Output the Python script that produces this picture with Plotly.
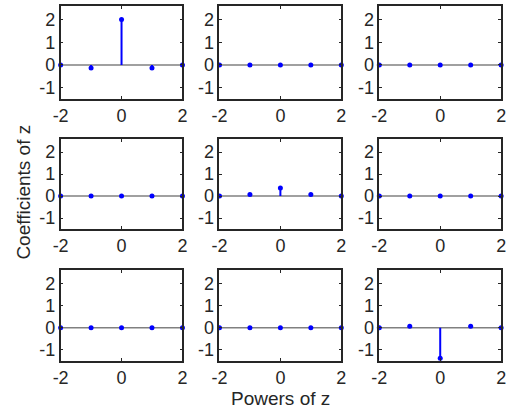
import plotly.graph_objects as go

powers = [-2, -1, 0, 1, 2]
coef_11 = [0, -0.13, 2, -0.13, 0]
coef_12 = [0, 0, 0, 0, 0]
coef_13 = [0, 0, 0, 0, 0]
coef_21 = [0, 0, 0, 0, 0]
coef_22 = [0, 0.07, 0.37, 0.07, 0]
coef_23 = [0, 0, 0, 0, 0]
coef_31 = [0, 0, 0, 0, 0]
coef_32 = [0, 0, 0, 0, 0]
coef_33 = [0, 0.07, -1.38, 0.07, 0]
panels = [coef_11, coef_12, coef_13, coef_21, coef_22, coef_23, coef_31, coef_32, coef_33]
x_ticks = [-2, 0, 2]
y_ticks = [-1, 0, 1, 2]

W, H = 511, 408
xdom_px = [(54, 179), (217, 342), (381, 506)]
ydom_px = [(6, 99), (139, 229), (270, 361)]
axcol = "#262626"
font = dict(family="Liberation Sans, Arial, sans-serif", size=18, color=axcol)
lab_font = dict(family="Liberation Sans, Arial, sans-serif", size=19, color=axcol)

fig = go.Figure()
layout = {}
for i, vals in enumerate(panels):
    r, c = divmod(i, 3)
    n = i + 1
    xa = "x" if n == 1 else f"x{n}"
    ya = "y" if n == 1 else f"y{n}"
    fig.add_trace(go.Scatter(x=[powers[0], powers[-1]], y=[0, 0], mode="lines",
                             line=dict(color="#808080", width=1.5),
                             xaxis=xa, yaxis=ya, showlegend=False, hoverinfo="skip"))
    sx, sy = [], []
    for p, v in zip(powers, vals):
        sx += [p, p, None]
        sy += [0, v, None]
    fig.add_trace(go.Scatter(x=sx, y=sy, mode="lines",
                             line=dict(color="#0000ff", width=2),
                             xaxis=xa, yaxis=ya, showlegend=False, cliponaxis=False))
    fig.add_trace(go.Scatter(x=powers, y=vals, mode="markers",
                             marker=dict(color="#0000ff", size=5),
                             xaxis=xa, yaxis=ya, showlegend=False, cliponaxis=False))
    x0, x1 = xdom_px[c]
    y0, y1 = ydom_px[r]
    key = "xaxis" if n == 1 else f"xaxis{n}"
    ykey = "yaxis" if n == 1 else f"yaxis{n}"
    layout[key] = dict(domain=[x0 / W, x1 / W], range=[-2, 2], anchor=ya,
                       tickvals=x_ticks, ticktext=[str(t) for t in x_ticks],
                       ticks="inside", ticklen=3, tickcolor=axcol, tickwidth=1,
                       showline=True, linecolor=axcol, linewidth=1.5, mirror="ticks",
                       showgrid=False, zeroline=False, tickfont=font, fixedrange=True)
    layout[ykey] = dict(domain=[1 - y1 / H, 1 - y0 / H], range=[-1.5, 2.6], anchor=xa,
                        tickvals=y_ticks, ticktext=[str(t) for t in y_ticks],
                        ticks="inside", ticklen=3, tickcolor=axcol, tickwidth=1,
                        showline=True, linecolor=axcol, linewidth=1.5, mirror="ticks",
                        showgrid=False, zeroline=False, tickfont=font, fixedrange=True)

fig.update_layout(**layout)
fig.update_layout(
    width=W, height=H, margin=dict(l=0, r=0, t=0, b=0),
    paper_bgcolor="white", plot_bgcolor="white", showlegend=False,
    annotations=[
        dict(text="Coefficients of z", x=15 / W, y=1 - 192 / H, xref="paper", yref="paper",
             textangle=-90, showarrow=False, font=lab_font, xanchor="center", yanchor="middle"),
        dict(text="Powers of z", x=280 / W, y=1 - 398 / H, xref="paper", yref="paper",
             showarrow=False, font=lab_font, xanchor="center", yanchor="middle"),
    ],
)
fig.write_html("out.html", config={"displayModeBar": False},
               post_script="document.body.style.margin='0';document.body.style.overflow='hidden';")
